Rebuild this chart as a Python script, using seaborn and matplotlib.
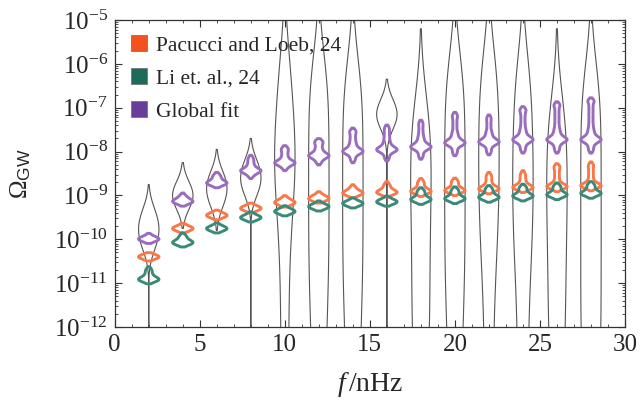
import numpy as np
import pandas as pd
import matplotlib
matplotlib.use("Agg")
import matplotlib.pyplot as plt
import seaborn as sns
from matplotlib.lines import Line2D
from matplotlib.ticker import LogLocator, MultipleLocator, NullFormatter

# frequencies (nHz) of the violins
freqs = [2, 4, 6, 8, 10, 12, 14, 16, 18, 20, 22, 24, 26, 28]

# log10(Omega_GW) samples, one list per frequency
# wide grey violins (outline only)
grey_samples = [
    [-9.35, -9.55, -9.7, -9.85, -10.0, -10.2, -14.5],
    [-8.85, -8.95, -9.0, -9.05, -9.15],
    [-8.55, -8.7, -8.85, -9.0, -9.2],
    [-8.3, -8.5, -8.7, -8.9, -15.0],
    [-5.9, -6.7, -7.3, -7.8, -8.2, -8.6, -9.1, -9.8, -10.8, -12.0, -13.3],
    [-6.1, -6.8, -7.5, -8.2, -8.9, -9.6, -10.3, -11.0, -11.8, -12.7, -13.8],
    [-6.2, -6.9, -7.6, -8.3, -9.0, -9.7, -10.4, -11.1, -11.9, -12.8, -13.9],
    [-6.95, -7.05, -7.15, -7.25, -7.35, -15.0],
    [-7.0, -7.6, -8.2, -8.8, -9.4, -10.1, -10.8, -11.5, -12.2, -13.0, -14.0],
    [-6.1, -6.8, -7.5, -8.2, -8.9, -9.6, -10.3, -11.0, -11.8, -12.7, -13.8],
    [-5.9, -6.6, -7.2, -7.8, -8.4, -9.0, -9.6, -10.3, -11.2, -12.4, -13.8],
    [-6.1, -6.8, -7.5, -8.1, -8.7, -9.3, -9.9, -10.6, -11.5, -12.6, -13.8],
    [-7.0, -7.6, -8.2, -8.8, -9.4, -10.0, -10.7, -11.4, -12.1, -12.9, -13.9],
    [-6.3, -7.0, -7.7, -8.4, -9.1, -9.8, -10.5, -11.2, -11.9, -12.6, -13.4, -14.4],
]
# the compact grey violins get a narrower kernel
grey_narrow = [2, 4, 6, 8, 16]

pacucci_samples = [
    [-10.44, -10.42, -10.41, -10.4, -10.39, -10.38, -10.36],
    [-9.8, -9.78, -9.77, -9.76, -9.75, -9.74, -9.72, -9.69],
    [-9.5, -9.48, -9.47, -9.46, -9.45, -9.44, -9.42, -9.39],
    [-9.34, -9.32, -9.31, -9.3, -9.29, -9.28, -9.26, -9.23],
    [-9.21, -9.19, -9.18, -9.17, -9.16, -9.15, -9.13, -9.1, -9.06],
    [-9.12, -9.1, -9.09, -9.08, -9.07, -9.06, -9.04, -9.01, -8.97],
    [-9.0, -8.98, -8.96, -8.955, -8.95, -8.945, -8.94, -8.92, -8.89, -8.85, -8.81],
    [-8.98, -8.96, -8.94, -8.935, -8.93, -8.925, -8.92, -8.9, -8.87, -8.83, -8.78, -8.74],
    [-8.97, -8.94, -8.92, -8.915, -8.91, -8.905, -8.9, -8.88, -8.85, -8.81, -8.76, -8.71, -8.67],
    [-8.95, -8.92, -8.9, -8.895, -8.89, -8.885, -8.88, -8.86, -8.83, -8.79, -8.74, -8.69, -8.66],
    [-8.91, -8.88, -8.86, -8.855, -8.85, -8.845, -8.84, -8.82, -8.79, -8.75, -8.7, -8.64, -8.58, -8.53],
    [-8.88, -8.85, -8.83, -8.825, -8.82, -8.815, -8.81, -8.79, -8.76, -8.72, -8.67, -8.61, -8.55, -8.49],
    [-8.86, -8.83, -8.81, -8.805, -8.8, -8.795, -8.79, -8.77, -8.74, -8.7, -8.64, -8.57, -8.5, -8.43,
     -8.36, -8.33],
    [-8.84, -8.81, -8.79, -8.785, -8.78, -8.775, -8.77, -8.75, -8.72, -8.68, -8.62, -8.55, -8.48, -8.41,
     -8.34, -8.29],
]

li_samples = [
    [-10.96, -10.94, -10.93, -10.92, -10.91, -10.9, -10.88, -10.84, -10.79, -10.73, -10.68],
    [-10.12, -10.1, -10.09, -10.08, -10.07, -10.06, -10.04, -10.0, -9.95, -9.91],
    [-9.8, -9.78, -9.77, -9.76, -9.75, -9.74, -9.72, -9.68],
    [-9.55, -9.53, -9.52, -9.51, -9.5, -9.49, -9.47, -9.43],
    [-9.41, -9.39, -9.38, -9.37, -9.36, -9.35, -9.33, -9.29],
    [-9.3, -9.28, -9.27, -9.26, -9.25, -9.24, -9.22, -9.18],
    [-9.23, -9.21, -9.2, -9.19, -9.18, -9.17, -9.15, -9.11],
    [-9.19, -9.17, -9.16, -9.15, -9.14, -9.13, -9.11, -9.07],
    [-9.15, -9.12, -9.11, -9.1, -9.09, -9.08, -9.06, -9.02, -8.97, -8.92, -8.88],
    [-9.13, -9.1, -9.09, -9.08, -9.07, -9.06, -9.04, -9.0, -8.95, -8.9, -8.86],
    [-9.1, -9.07, -9.06, -9.05, -9.04, -9.03, -9.01, -8.97, -8.92, -8.87, -8.83],
    [-9.07, -9.04, -9.03, -9.02, -9.01, -9.0, -8.98, -8.94, -8.89, -8.84, -8.8],
    [-9.04, -9.01, -9.0, -8.99, -8.98, -8.97, -8.95, -8.91, -8.86, -8.81, -8.77],
    [-9.01, -8.98, -8.97, -8.96, -8.95, -8.94, -8.92, -8.88, -8.83, -8.78, -8.74],
]

global_samples = [
    [-10.04, -10.02, -10.01, -10.0, -9.99, -9.98, -9.96, -9.92],
    [-9.19, -9.16, -9.15, -9.14, -9.13, -9.12, -9.09, -9.05, -9.0],
    [-8.77, -8.74, -8.73, -8.72, -8.71, -8.7, -8.67, -8.62, -8.57, -8.53],
    [-8.56, -8.5, -8.46, -8.45, -8.44, -8.43, -8.42, -8.39, -8.34, -8.28, -8.21, -8.14],
    [-8.38, -8.32, -8.28, -8.27, -8.26, -8.25, -8.24, -8.21, -8.16, -8.1, -8.03, -7.96, -7.92],
    [-8.25, -8.18, -8.13, -8.115, -8.1, -8.085, -8.07, -8.04, -7.99, -7.93, -7.86, -7.79, -7.76],
    [-8.2, -8.12, -8.05, -8.03, -8.015, -8.0, -7.985, -7.97, -7.95, -7.91, -7.86, -7.8, -7.73, -7.65,
     -7.57, -7.52],
    [-8.16, -8.08, -8.01, -7.99, -7.975, -7.96, -7.945, -7.93, -7.91, -7.87, -7.82, -7.76, -7.69, -7.61,
     -7.53, -7.45],
    [-8.12, -8.04, -7.96, -7.94, -7.92, -7.905, -7.89, -7.875, -7.86, -7.84, -7.8, -7.75, -7.69, -7.62,
     -7.53, -7.43, -7.34],
    [-8.04, -7.96, -7.88, -7.85, -7.83, -7.815, -7.8, -7.785, -7.77, -7.75, -7.71, -7.66, -7.6, -7.53,
     -7.43, -7.33, -7.23, -7.16],
    [-8.02, -7.94, -7.86, -7.83, -7.81, -7.795, -7.78, -7.765, -7.75, -7.73, -7.69, -7.64, -7.58, -7.51,
     -7.41, -7.31, -7.22],
    [-7.98, -7.9, -7.83, -7.78, -7.76, -7.745, -7.73, -7.715, -7.7, -7.68, -7.64, -7.59, -7.53, -7.46,
     -7.37, -7.27, -7.17, -7.08, -7.03],
    [-7.98, -7.9, -7.83, -7.78, -7.76, -7.745, -7.73, -7.715, -7.7, -7.68, -7.64, -7.59, -7.53, -7.46,
     -7.37, -7.27, -7.17, -7.07, -6.97, -6.92],
    [-7.98, -7.9, -7.83, -7.78, -7.76, -7.745, -7.73, -7.715, -7.7, -7.68, -7.64, -7.59, -7.53, -7.46,
     -7.37, -7.27, -7.17, -7.07, -6.97, -6.87, -6.83],
]

labels = ["Pacucci and Loeb, 24", "Li et. al., 24", "Global fit"]
line_colors = ["#F9784A", "#3B8A78", "#9A6CBE"]
legend_colors = ["#F4511E", "#1E6B5B", "#6A3D9A"]


def to_frame(freq_list, samples):
    rows = [(f, 10.0 ** v) for f, vals in zip(freq_list, samples) for v in vals]
    return pd.DataFrame(rows, columns=["f", "omega"])


def fixed_bw(width):
    # kernel width in decades, the same for every violin of a call
    return lambda kde: width / kde.dataset.std(ddof=1)


sns.set_style("ticks")
plt.rcParams["font.family"] = ["Liberation Serif", "DejaVu Serif"]
plt.rcParams["mathtext.fontset"] = "custom"
plt.rcParams["mathtext.rm"] = "Liberation Serif"
plt.rcParams["mathtext.it"] = "Liberation Serif:italic"
plt.rcParams["mathtext.bf"] = "Liberation Serif:bold"
plt.rcParams["mathtext.sf"] = "Liberation Sans"

fig = plt.figure(figsize=(6.41, 4.0), dpi=100)
ax = fig.add_axes([0.179, 0.1825, 0.796, 0.7675])

common = dict(x="f", y="omega", orient="x", native_scale=True, log_scale=(False, True),
              fill=False, inner=None, density_norm="width", saturation=1, ax=ax)

# grey violins, compact ones and broad ones
narrow_idx = [i for i, f in enumerate(freqs) if f in grey_narrow]
broad_idx = [i for i, f in enumerate(freqs) if f not in grey_narrow]
sns.violinplot(data=to_frame([freqs[i] for i in narrow_idx], [grey_samples[i] for i in narrow_idx]),
               color="#555555", linecolor="#555555", linewidth=0.8, width=0.6, cut=2,
               bw_method=fixed_bw(0.3), **common)
sns.violinplot(data=to_frame([freqs[i] for i in broad_idx], [grey_samples[i] for i in broad_idx]),
               color="#555555", linecolor="#555555", linewidth=0.8, width=0.6, cut=2,
               bw_method=fixed_bw(0.9), **common)

# coloured violins
for samples, col in zip([pacucci_samples, li_samples, global_samples], line_colors):
    sns.violinplot(data=to_frame(freqs, samples), color=col, linecolor=col,
                   linewidth=2.1, width=0.6, cut=1.1, bw_method=fixed_bw(0.05), **common)

ax.set_xlim(0, 30)
ax.set_ylim(1e-12, 1e-5)
ax.xaxis.set_major_locator(MultipleLocator(5))
ax.xaxis.set_minor_locator(MultipleLocator(1))
ax.yaxis.set_major_locator(LogLocator(base=10, numticks=20))
ax.yaxis.set_minor_locator(LogLocator(base=10, subs=np.arange(2, 10), numticks=20))
ax.yaxis.set_minor_formatter(NullFormatter())
ax.tick_params(which="both", direction="in", top=True, right=True, color="#333333")
ax.tick_params(which="major", length=5, width=0.8, labelsize=18, pad=5)
ax.tick_params(which="minor", length=2.5, width=0.6)
for s in ax.spines.values():
    s.set_color("#333333")
    s.set_linewidth(0.9)

ax.set_xlabel(r"$f\,$/nHz", fontsize=20, labelpad=10)
ax.set_ylabel(r"$\Omega_{\mathsf{GW}}$", fontsize=18, labelpad=15)

handles = [Line2D([], [], marker="s", linestyle="none", markersize=11,
                  markerfacecolor=c, markeredgecolor="#777777", markeredgewidth=0.6)
           for c in legend_colors]
ax.legend(handles, labels, loc="upper left", frameon=False, fontsize=15.5,
          handletextpad=0.3, labelspacing=0.62, borderaxespad=0.3, handlelength=0.9)

fig.savefig("out.png", dpi=100)
